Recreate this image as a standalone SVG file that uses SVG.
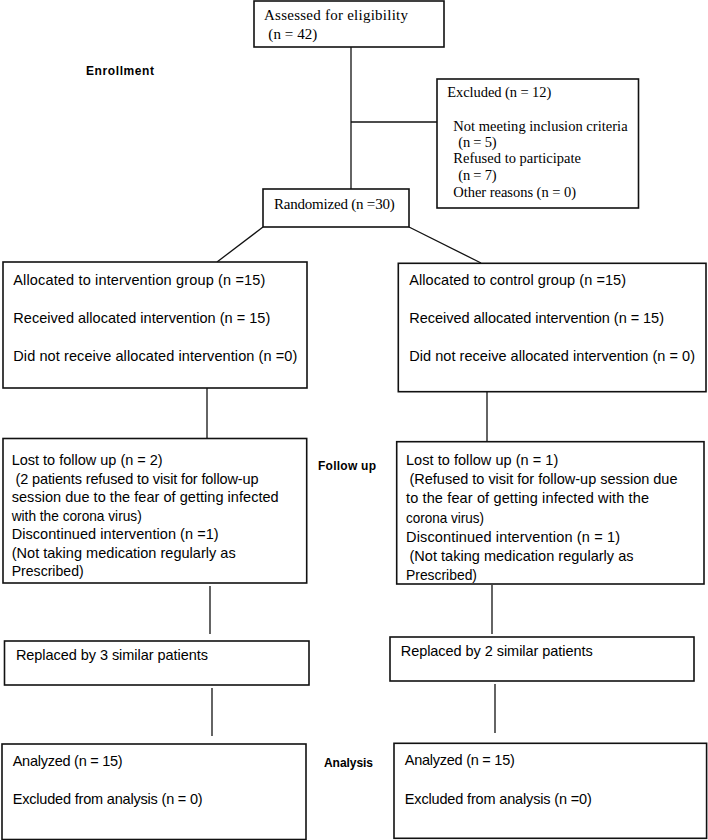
<svg xmlns="http://www.w3.org/2000/svg" width="708" height="840" viewBox="0 0 708 840">
<style>
.box{fill:#fff;stroke:#111;stroke-width:1.6}
.ln{stroke:#111;stroke-width:1.3;fill:none}
.s{font-family:"Liberation Serif","Times New Roman",serif;font-size:15px;fill:#000}
.ss{font-family:"Liberation Serif","Times New Roman",serif;font-size:14.5px;fill:#000}
.t{font-family:"Liberation Sans",Arial,sans-serif;font-size:14.5px;fill:#000}
.lb{font-family:"Liberation Sans",Arial,sans-serif;font-size:12px;font-weight:bold;fill:#000}
</style>
<rect width="708" height="840" fill="#fff"/>
<g id="connectors">
<line class="ln" x1="351" y1="47" x2="351" y2="189"/>
<line class="ln" x1="351" y1="122" x2="437" y2="122"/>
<line class="ln" x1="263" y1="227" x2="217" y2="262"/>
<line class="ln" x1="409" y1="227" x2="481" y2="263"/>
<line class="ln" x1="207" y1="388" x2="207" y2="438.5"/>
<line class="ln" x1="487" y1="391.7" x2="487" y2="441.7"/>
<line class="ln" x1="210" y1="586" x2="210" y2="634"/>
<line class="ln" x1="492" y1="585" x2="492" y2="634"/>
<line class="ln" x1="212" y1="688" x2="212" y2="736"/>
<line class="ln" x1="495" y1="684" x2="495" y2="733"/>
</g>
<g id="labels">
<text class="lb" x="86" y="75" textLength="68">Enrollment</text>
<text class="lb" x="318" y="470" textLength="58">Follow up</text>
<text class="lb" x="324" y="767" textLength="49">Analysis</text>
</g>
<g id="assessed">
<rect class="box" x="254" y="1" width="190" height="46"/>
<text class="s" x="264" y="20" textLength="144">Assessed for eligibility</text>
<text class="s" x="268.3" y="38.5" textLength="49">(n = 42)</text>
</g>
<g id="excluded">
<rect class="box" x="437" y="79" width="201.5" height="129"/>
<text class="ss" x="447.3" y="96.7" textLength="104">Excluded (n = 12)</text>
<text class="ss" x="453.3" y="130.7" textLength="174.3">Not meeting inclusion criteria</text>
<text class="ss" x="458.3" y="146.7" textLength="38.3">(n = 5)</text>
<text class="ss" x="453.3" y="163.3" textLength="127.7">Refused to participate</text>
<text class="ss" x="458.3" y="180" textLength="38.3">(n = 7)</text>
<text class="ss" x="453.3" y="196.7" textLength="122.7">Other reasons (n = 0)</text>
</g>
<g id="randomized">
<rect class="box" x="263" y="189" width="146" height="38"/>
<text class="s" x="274" y="209" textLength="120.7">Randomized (n =30)</text>
</g>
<g id="alloc-left">
<rect class="box" x="3" y="262" width="304" height="126"/>
<text class="t" x="13.3" y="285" textLength="252">Allocated to intervention group (n =15)</text>
<text class="t" x="13.3" y="323" textLength="257">Received allocated intervention (n = 15)</text>
<text class="t" x="13.3" y="361" textLength="284">Did not receive allocated intervention (n =0)</text>
</g>
<g id="alloc-right">
<rect class="box" x="398.3" y="263.3" width="307.7" height="128.4"/>
<text class="t" x="409.3" y="284.5" textLength="216.7">Allocated to control group (n =15)</text>
<text class="t" x="409.3" y="323" textLength="254.7">Received allocated intervention (n = 15)</text>
<text class="t" x="409.3" y="361" textLength="285.7">Did not receive allocated intervention (n = 0)</text>
</g>
<g id="followup-left">
<rect class="box" x="3" y="438.5" width="303.7" height="144.5"/>
<text class="t" x="11.7" y="465" textLength="151">Lost to follow up (n = 2)</text>
<text class="t" x="15.5" y="483.5" textLength="243">(2 patients refused to visit for follow-up</text>
<text class="t" x="11.7" y="502" textLength="267">session due to the fear of getting infected</text>
<text class="t" x="11.7" y="520.5" textLength="130" lengthAdjust="spacingAndGlyphs">with the corona virus)</text>
<text class="t" x="11.7" y="539" textLength="207">Discontinued intervention (n =1)</text>
<text class="t" x="11.7" y="557.5" textLength="224">(Not taking medication regularly as</text>
<text class="t" x="11.7" y="576" textLength="72" lengthAdjust="spacingAndGlyphs">Prescribed)</text>
</g>
<g id="followup-right">
<rect class="box" x="396.7" y="441.7" width="307.3" height="142.3"/>
<text class="t" x="406" y="465" textLength="152.3">Lost to follow up (n = 1)</text>
<text class="t" x="409.5" y="484.2" textLength="268">(Refused to visit for follow-up session due</text>
<text class="t" x="406" y="503.3" textLength="243">to the fear of getting infected with the</text>
<text class="t" x="406" y="522.5" textLength="78" lengthAdjust="spacingAndGlyphs">corona virus)</text>
<text class="t" x="406" y="541.7" textLength="214">Discontinued intervention (n = 1)</text>
<text class="t" x="409.5" y="560.8" textLength="224">(Not taking medication regularly as</text>
<text class="t" x="406" y="580" textLength="71" lengthAdjust="spacingAndGlyphs">Prescribed)</text>
</g>
<g id="replaced-left">
<rect class="box" x="4.5" y="641" width="304.5" height="44"/>
<text class="t" x="15.9" y="660" textLength="192">Replaced by 3 similar patients</text>
</g>
<g id="replaced-right">
<rect class="box" x="390" y="637" width="304" height="44"/>
<text class="t" x="400.7" y="656" textLength="192">Replaced by 2 similar patients</text>
</g>
<g id="analysis-left">
<rect class="box" x="2" y="744" width="304" height="95.5"/>
<text class="t" x="12.7" y="766" textLength="110">Analyzed (n = 15)</text>
<text class="t" x="12.7" y="804" textLength="190">Excluded from analysis (n = 0)</text>
</g>
<g id="analysis-right">
<rect class="box" x="394" y="743.3" width="312.6" height="95"/>
<text class="t" x="404.8" y="765" textLength="110">Analyzed (n = 15)</text>
<text class="t" x="404.8" y="804" textLength="187">Excluded from analysis (n =0)</text>
</g>
</svg>
